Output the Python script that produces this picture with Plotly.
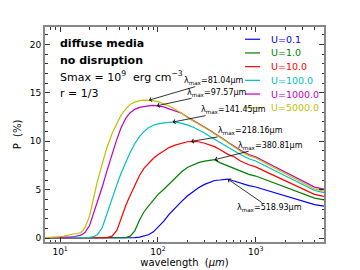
import numpy as np
import plotly.graph_objects as go

# ---------------- data ----------------
wavelength = [7, 8, 9, 10, 11, 12, 13, 14, 15, 16, 17, 18, 20, 22, 24, 27, 30, 34, 38, 42,
              47, 52, 58, 65, 72, 80, 90, 100, 115, 130, 150, 175, 200, 230, 260, 300, 340,
              380, 430, 480, 520, 600, 700, 850, 1000, 1250, 1700, 2300, 3000, 4000, 5000]

P_U0_1 = [0.02, 0.02, 0.02, 0.02, 0.02, 0.02, 0.02, 0.02, 0.02, 0.02, 0.02, 0.02, 0.02, 0.02,
          0.02, 0.02, 0.02, 0.02, 0.02, 0.02, 0.02, 0.02, 0.05, 0.1, 0.2, 0.35, 0.65, 1.1,
          1.75, 2.45, 3.15, 3.8, 4.35, 4.85, 5.2, 5.55, 5.8, 5.95, 6.0, 6.05, 6.1, 5.9, 5.67,
          5.42, 5.28, 4.98, 4.58, 4.19, 3.84, 3.46, 3.3]
P_U1 = [0.02, 0.02, 0.02, 0.02, 0.02, 0.02, 0.02, 0.02, 0.02, 0.02, 0.02, 0.02, 0.02, 0.02,
        0.02, 0.02, 0.02, 0.02, 0.02, 0.02, 0.06, 0.2, 0.75, 1.9, 2.7, 3.3, 3.9, 4.5, 5.05,
        5.6, 6.25, 6.85, 7.3, 7.6, 7.8, 7.95, 8.05, 8.1, 7.8, 7.6, 7.45, 7.25, 6.9, 6.58,
        6.41, 6.03, 5.53, 5.03, 4.6, 4.13, 3.95]
P_U10 = [0.02, 0.02, 0.02, 0.02, 0.02, 0.02, 0.02, 0.02, 0.02, 0.02, 0.02, 0.02, 0.02, 0.02,
         0.02, 0.03, 0.06, 0.2, 0.8, 2.0, 3.4, 4.4, 5.5, 6.5, 7.2, 7.75, 8.25, 8.6, 9.0, 9.35,
         9.6, 9.8, 9.95, 10.0, 9.95, 9.8, 9.65, 9.45, 9.15, 8.85, 8.65, 8.4, 7.97, 7.57, 7.36,
         6.89, 6.26, 5.65, 5.1, 4.52, 4.3]
P_U100 = [0.02, 0.02, 0.02, 0.02, 0.02, 0.02, 0.02, 0.02, 0.03, 0.03, 0.03, 0.04, 0.08, 0.15,
          0.35, 1.1, 2.5, 4.1, 5.5, 6.7, 7.9, 8.85, 9.75, 10.5, 11.0, 11.4, 11.65, 11.8, 11.9,
          11.95, 12.0, 11.85, 11.7, 11.45, 11.2, 10.85, 10.5, 10.2, 9.9, 9.6, 9.4, 9.05, 8.63,
          8.2, 7.97, 7.47, 6.79, 6.13, 5.55, 4.92, 4.7]
P_U1000 = [0.02, 0.03, 0.04, 0.05, 0.07, 0.1, 0.13, 0.17, 0.22, 0.28, 0.4, 0.6, 1.3, 2.5, 3.7,
           5.3, 6.9, 8.7, 10.2, 11.4, 12.4, 12.95, 13.3, 13.5, 13.6, 13.65, 13.7, 13.65, 13.55,
           13.35, 13.1, 12.9, 12.5, 12.15, 11.85, 11.5, 11.15, 10.8, 10.5, 10.15, 9.9, 9.5,
           9.07, 8.63, 8.4, 7.88, 7.19, 6.52, 5.92, 5.27, 5.05]
P_U5000 = [0.05, 0.06, 0.08, 0.12, 0.2, 0.3, 0.4, 0.45, 0.48, 0.55, 0.75, 1.1, 2.3, 4.3, 5.8,
           7.7, 9.3, 10.8, 11.9, 12.7, 13.35, 13.8, 14.05, 14.2, 14.25, 14.25, 14.2, 14.1, 13.9,
           13.65, 13.3, 12.9, 12.45, 12.1, 11.8, 11.45, 11.1, 10.75, 10.45, 10.1, 9.85, 9.45,
           8.96, 8.52, 8.28, 7.75, 7.04, 6.35, 5.74, 5.08, 4.85]

series_names = ["U=0.1", "U=1.0", "U=10.0", "U=100.0", "U=1000.0", "U=5000.0"]
series_values = [P_U0_1, P_U1, P_U10, P_U100, P_U1000, P_U5000]
lambda_max = [518.93, 380.81, 218.16, 141.45, 97.57, 81.04]

x_tick_values = [10, 100, 1000]
x_tick_labels = ["10<sup>1</sup>", "10<sup>2</sup>", "10<sup>3</sup>"]
y_tick_values = [0, 5, 10, 15, 20]

info_lines = ["<b>diffuse media</b>", "<b>no disruption</b>",
              "Smax = 10<sup>9</sup>  erg cm<sup>\u22123</sup>", "r = 1/3"]

# ---------------- styles ----------------
colors = ["#0000ff", "#008000", "#ff0000", "#00bfbf", "#bf00bf", "#bfbf00"]
label_offsets = [(42, 29), (56, -14), (59, -10), (61, -12), (60, -13), (65, -19)]
FONT = "DejaVu Sans"

fig = go.Figure()
for name, vals, col in zip(series_names, series_values, colors):
    fig.add_trace(go.Scatter(x=wavelength, y=vals, mode="lines", name=name,
                             line=dict(color=col, width=1.2), showlegend=False))

# lambda_max annotations with arrows
logwl = np.log10(wavelength)
for lm, vals, (ax, ay) in zip(lambda_max, series_values, label_offsets):
    py = float(np.interp(np.log10(lm), logwl, vals))
    fig.add_annotation(x=np.log10(lm), y=py, xref="x", yref="y",
                       text="\u03bb<sub>max</sub>=%.2f\u03bcm" % lm,
                       showarrow=True, ax=ax, ay=ay, arrowhead=4, arrowsize=1,
                       arrowwidth=0.8, arrowcolor="black", standoff=0, borderpad=0,
                       font=dict(family=FONT, size=8, color="black"))

# info text block
for i, line in enumerate(info_lines):
    fig.add_annotation(x=0.05, y=0.921 - i * 0.076, xref="paper", yref="paper",
                       text=line, showarrow=False, xanchor="left", yanchor="middle",
                       borderpad=0, font=dict(family=FONT, size=11, color="black"))

# custom legend
for i, (name, col) in enumerate(zip(series_names, colors)):
    yy = 0.943 - i * 0.0637
    fig.add_shape(type="line", xref="paper", yref="paper", x0=0.717, x1=0.771,
                  y0=yy, y1=yy, line=dict(color=col, width=1.2))
    fig.add_annotation(x=0.803, y=yy, xref="paper", yref="paper", text=name,
                       showarrow=False, xanchor="left", yanchor="middle",
                       font=dict(family=FONT, size=9.5, color=col))

minor_x = [8, 9] + [k * 10 for k in range(2, 10)] + [k * 100 for k in range(2, 10)] + \
          [k * 1000 for k in range(2, 5)]

axis_common = dict(showline=True, linecolor="#888888", linewidth=2, mirror="allticks",
                   ticks="inside", ticklen=5, tickwidth=1, tickcolor="#333333",
                   showgrid=False, zeroline=False, automargin=False,
                   tickfont=dict(family=FONT, size=9, color="black"))

fig.update_layout(
    width=360, height=270,
    margin=dict(l=45, r=36, t=27, b=28),
    paper_bgcolor="white", plot_bgcolor="white",
    showlegend=False,
    font=dict(family=FONT, size=9, color="black"),
    xaxis=dict(type="log", range=[np.log10(7), np.log10(5000)],
               tickmode="array", tickvals=x_tick_values, ticktext=x_tick_labels,
               minor=dict(tickmode="array", tickvals=minor_x, ticks="inside",
                          ticklen=2.5, tickcolor="#333333", showgrid=False),
               title=dict(text="wavelength  (<i>\u03bcm</i>)", standoff=1,
                          font=dict(family=FONT, size=10)),
               **axis_common),
    yaxis=dict(range=[-0.4, 21.8], tickmode="array", tickvals=y_tick_values,
               minor=dict(dtick=1, ticks="inside", ticklen=2.5, tickcolor="#333333",
                          showgrid=False),
               title=dict(text="P  (%)", standoff=6, font=dict(family=FONT, size=10)),
               **axis_common),
)

fig.write_html("out.html", config={"displayModeBar": False},
               post_script="document.body.style.margin='0px';")
